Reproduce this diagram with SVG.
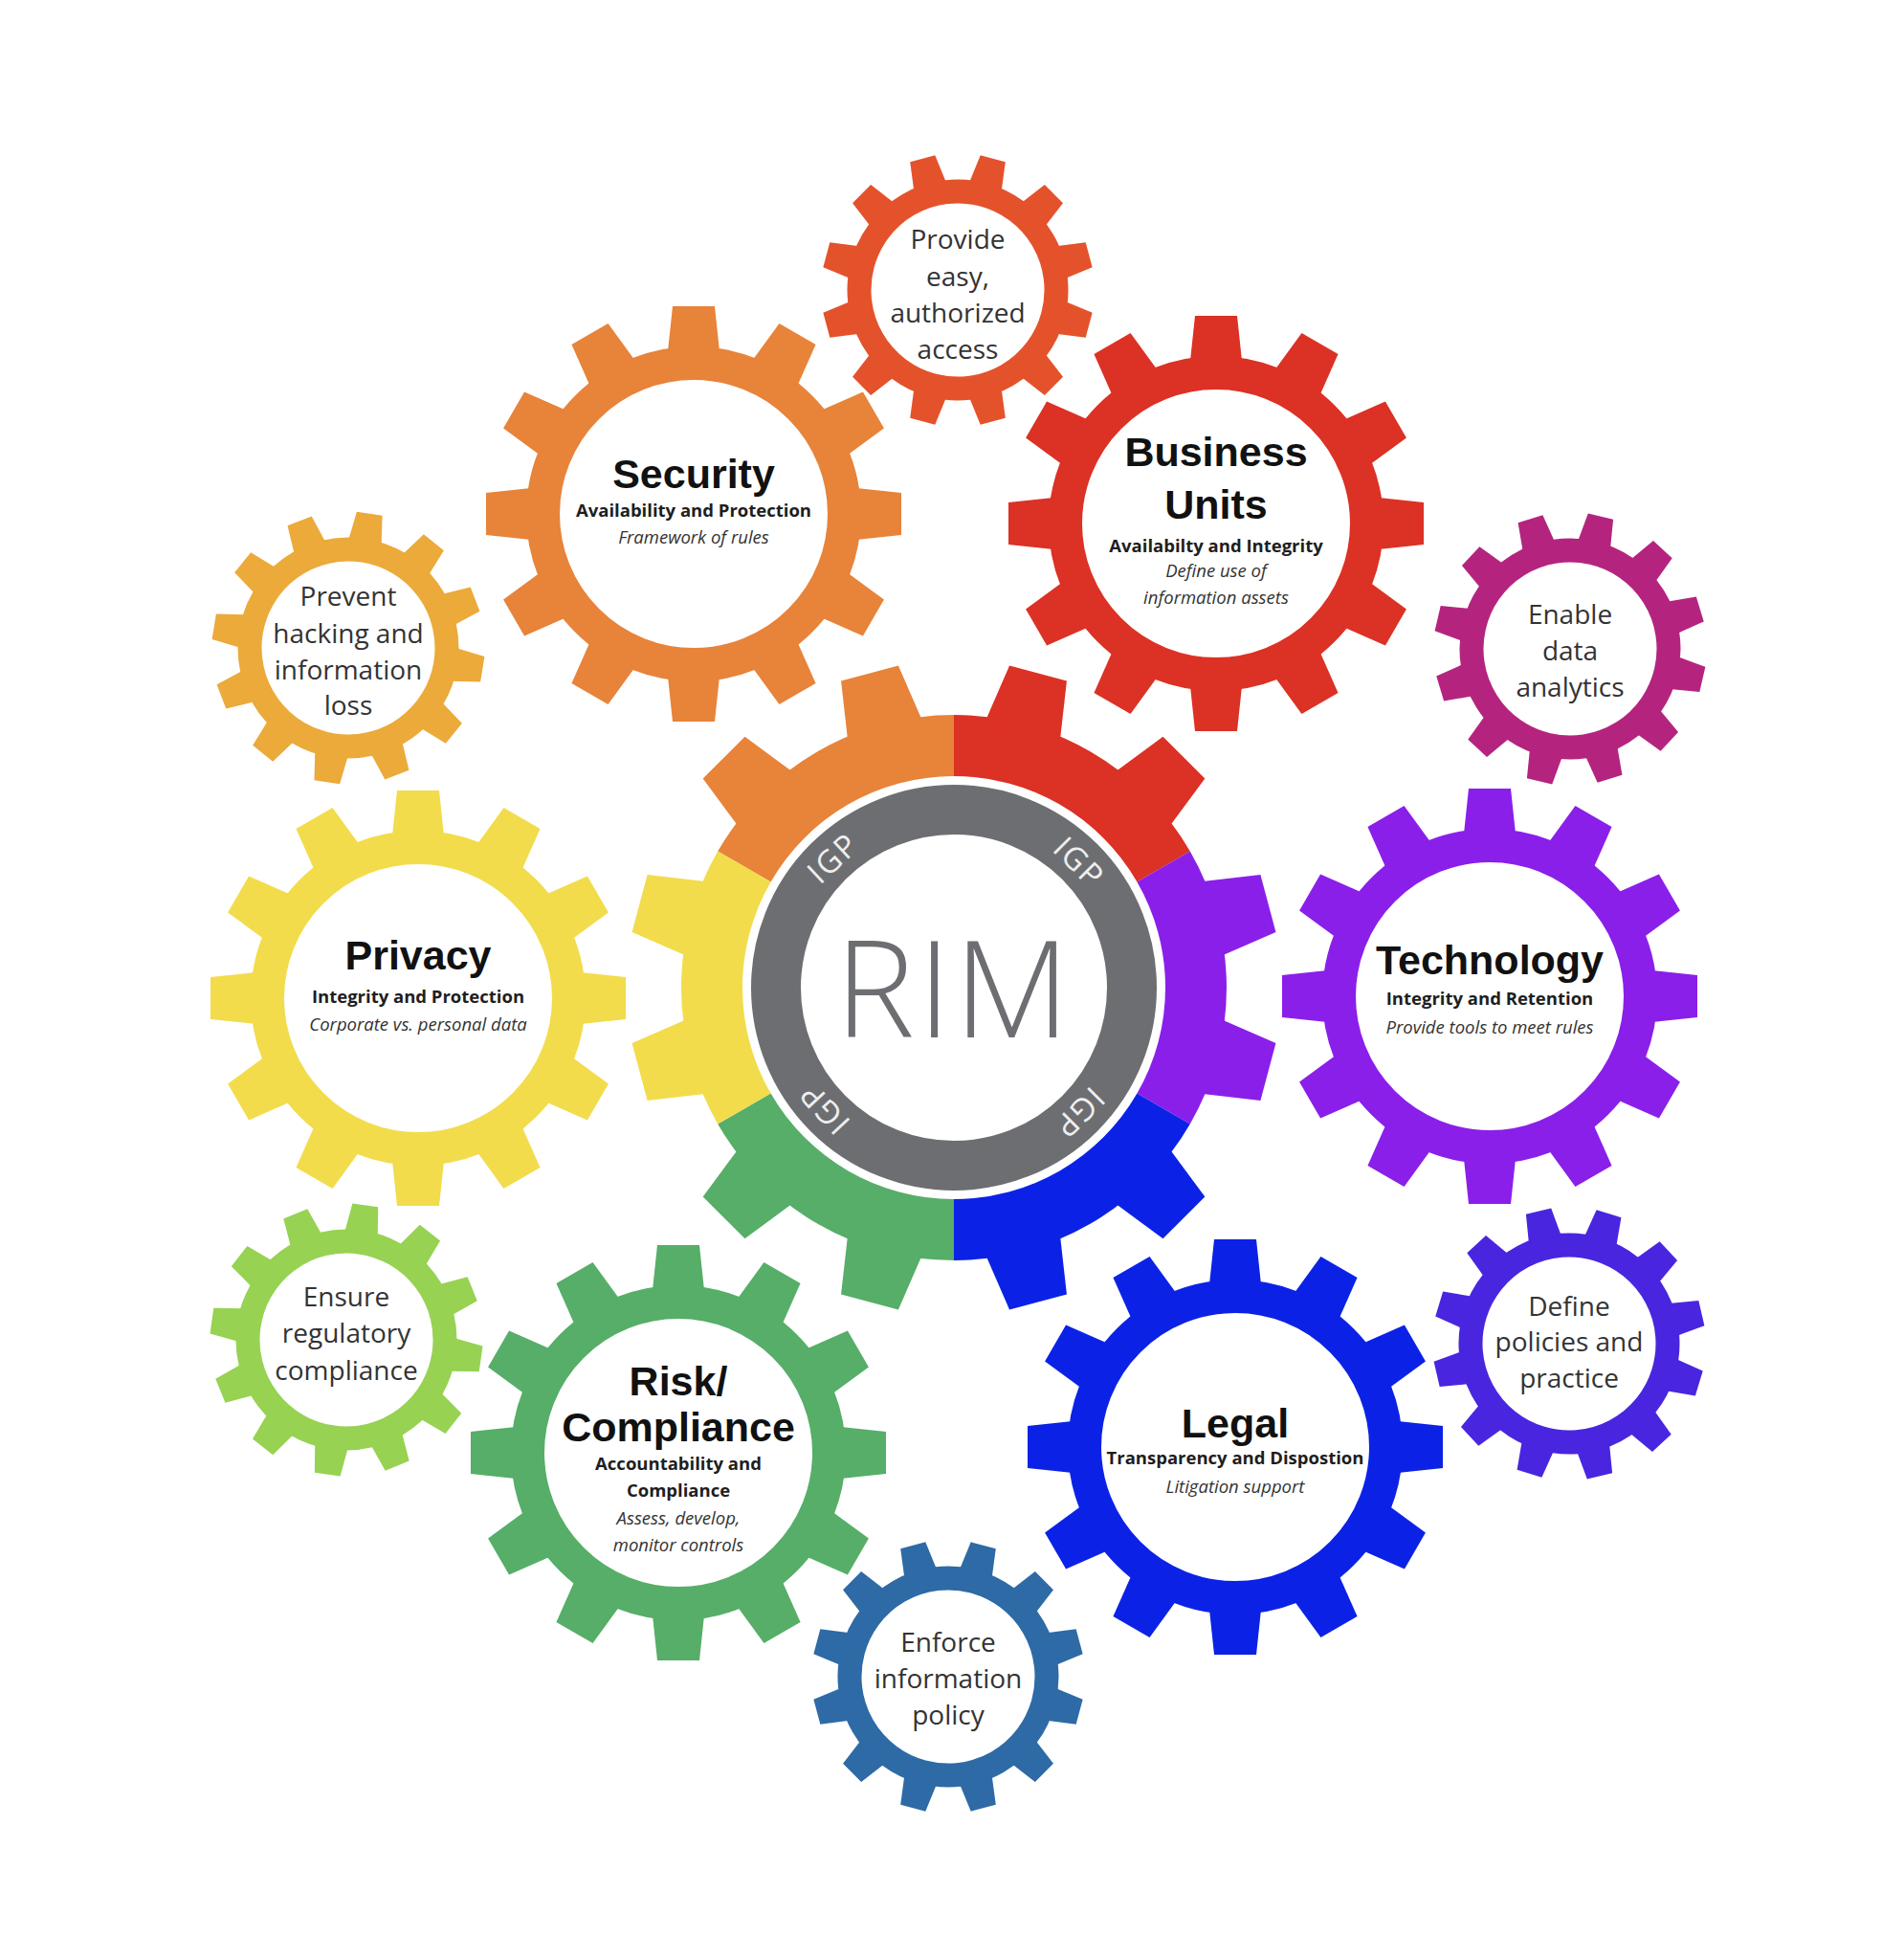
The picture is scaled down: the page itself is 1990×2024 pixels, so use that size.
<svg xmlns="http://www.w3.org/2000/svg" width="1990" height="2024" viewBox="0 0 1990 2024">
<style>
text{font-family:"Open Sans","Liberation Sans",sans-serif;text-anchor:middle}
.t{font-family:"Liberation Sans",Arial,sans-serif;font-weight:700;font-size:43px;fill:#111}
.s{font-weight:700;font-size:18.5px;fill:#1e1e1e}
.i{font-style:italic;font-size:18.5px;fill:#333}
.m{font-size:28px;fill:#333}
.rim{font-weight:300;font-size:140px;fill:#6D6E71;letter-spacing:3px}
.igp{font-weight:400;font-size:33px;fill:#EEEEEE;letter-spacing:2px;dominant-baseline:central}
</style>
<defs>
<polygon id="tB" points="-22,-217 22,-217 27,-170 -27,-170" fill="currentColor"/>
<g id="gearB">
<circle r="157.5" fill="none" stroke="currentColor" stroke-width="35"/>
<use href="#tB"/><use href="#tB" transform="rotate(30)"/><use href="#tB" transform="rotate(60)"/><use href="#tB" transform="rotate(90)"/>
<use href="#tB" transform="rotate(120)"/><use href="#tB" transform="rotate(150)"/><use href="#tB" transform="rotate(180)"/><use href="#tB" transform="rotate(210)"/>
<use href="#tB" transform="rotate(240)"/><use href="#tB" transform="rotate(270)"/><use href="#tB" transform="rotate(300)"/><use href="#tB" transform="rotate(330)"/>
</g>
<polygon id="tS" points="-13.5,-142 13.5,-142 17.5,-111 -17.5,-111" fill="currentColor"/>
<g id="gearS">
<circle r="103" fill="none" stroke="currentColor" stroke-width="25"/>
<use href="#tS"/><use href="#tS" transform="rotate(30)"/><use href="#tS" transform="rotate(60)"/><use href="#tS" transform="rotate(90)"/>
<use href="#tS" transform="rotate(120)"/><use href="#tS" transform="rotate(150)"/><use href="#tS" transform="rotate(180)"/><use href="#tS" transform="rotate(210)"/>
<use href="#tS" transform="rotate(240)"/><use href="#tS" transform="rotate(270)"/><use href="#tS" transform="rotate(300)"/><use href="#tS" transform="rotate(330)"/>
</g>
<polygon id="tC" points="-31,-340 31,-340 40,-280 -40,-280"/>
</defs>
<rect width="1990" height="2024" fill="#fff"/>

<g id="connectors"/>

<g id="rim-core" transform="translate(997,1032)">
<g fill="#E8833A"><path d="M-191.4,-110.5 L-246.8,-142.5 A285,285 0 0 1 0,-285 L0,-221 A221,221 0 0 0 -191.4,-110.5Z"/><use href="#tC" transform="rotate(-45)"/><use href="#tC" transform="rotate(-15)"/></g>
<g fill="#DC3125"><path d="M0,-221 L0,-285 A285,285 0 0 1 246.8,-142.5 L191.4,-110.5 A221,221 0 0 0 0,-221Z"/><use href="#tC" transform="rotate(15)"/><use href="#tC" transform="rotate(45)"/></g>
<g fill="#8A1FEA"><path d="M191.4,-110.5 L246.8,-142.5 A285,285 0 0 1 246.8,142.5 L191.4,110.5 A221,221 0 0 0 191.4,-110.5Z"/><use href="#tC" transform="rotate(75)"/><use href="#tC" transform="rotate(105)"/></g>
<g fill="#0B22E6"><path d="M191.4,110.5 L246.8,142.5 A285,285 0 0 1 0,285 L0,221 A221,221 0 0 0 191.4,110.5Z"/><use href="#tC" transform="rotate(135)"/><use href="#tC" transform="rotate(165)"/></g>
<g fill="#56AE68"><path d="M0,221 L0,285 A285,285 0 0 1 -246.8,142.5 L-191.4,110.5 A221,221 0 0 0 0,221Z"/><use href="#tC" transform="rotate(195)"/><use href="#tC" transform="rotate(225)"/></g>
<g fill="#F2DC4C"><path d="M-191.4,110.5 L-246.8,142.5 A285,285 0 0 1 -246.8,-142.5 L-191.4,-110.5 A221,221 0 0 0 -191.4,110.5Z"/><use href="#tC" transform="rotate(255)"/><use href="#tC" transform="rotate(285)"/></g>
<circle r="186" fill="#fff" stroke="#6D6E71" stroke-width="52"/>
<text class="rim" x="0" y="52">RIM</text>
<text class="igp" transform="rotate(-43) translate(0,-186)">IGP</text>
<text class="igp" transform="rotate(45) translate(0,-186)">IGP</text>
<text class="igp" transform="rotate(135) translate(0,-186)">IGP</text>
<text class="igp" transform="rotate(227) translate(0,-186)">IGP</text>
</g>

<g id="provide-access">
<use href="#gearS" transform="translate(1001,303) rotate(15)" color="#E4522B"/>
<text class="m" x="1001" y="260">Provide</text>
<text class="m" x="1001" y="299">easy,</text>
<text class="m" x="1001" y="337">authorized</text>
<text class="m" x="1001" y="375">access</text>
</g>

<g id="security">
<use href="#gearB" transform="translate(725,537)" color="#E8833A"/>
<text class="t" x="725" y="510">Security</text>
<text class="s" x="725" y="540">Availability and Protection</text>
<text class="i" x="725" y="568">Framework of rules</text>
</g>

<g id="business-units">
<use href="#gearB" transform="translate(1271,547)" color="#DC3125"/>
<text class="t" x="1271" y="487">Business</text>
<text class="t" x="1271" y="542">Units</text>
<text class="s" x="1271" y="577">Availabilty and Integrity</text>
<text class="i" x="1271" y="603">Define use of</text>
<text class="i" x="1271" y="631">information assets</text>
</g>

<g id="prevent-hacking">
<use href="#gearS" transform="translate(364,677) rotate(9)" color="#EBAA3A"/>
<text class="m" x="364" y="633">Prevent</text>
<text class="m" x="364" y="672">hacking and</text>
<text class="m" x="364" y="710">information</text>
<text class="m" x="364" y="747">loss</text>
</g>

<g id="enable-analytics">
<use href="#gearS" transform="translate(1641,678) rotate(13)" color="#B4247F"/>
<text class="m" x="1641" y="652">Enable</text>
<text class="m" x="1641" y="690">data</text>
<text class="m" x="1641" y="728">analytics</text>
</g>

<g id="privacy">
<use href="#gearB" transform="translate(437,1043)" color="#F2DC4C"/>
<text class="t" x="437" y="1013">Privacy</text>
<text class="s" x="437" y="1048">Integrity and Protection</text>
<text class="i" x="437" y="1077">Corporate vs. personal data</text>
</g>

<g id="technology">
<use href="#gearB" transform="translate(1557,1041)" color="#8A1FEA"/>
<text class="t" x="1557" y="1018">Technology</text>
<text class="s" x="1557" y="1050">Integrity and Retention</text>
<text class="i" x="1557" y="1080">Provide tools to meet rules</text>
</g>

<g id="ensure-compliance">
<use href="#gearS" transform="translate(362,1400) rotate(8)" color="#97D253"/>
<text class="m" x="362" y="1365">Ensure</text>
<text class="m" x="362" y="1403">regulatory</text>
<text class="m" x="362" y="1442">compliance</text>
</g>

<g id="define-policies">
<use href="#gearS" transform="translate(1640,1404) rotate(17)" color="#4A25E0"/>
<text class="m" x="1640" y="1375">Define</text>
<text class="m" x="1640" y="1412">policies and</text>
<text class="m" x="1640" y="1450">practice</text>
</g>

<g id="risk-compliance">
<use href="#gearB" transform="translate(709,1518)" color="#56AE68"/>
<text class="t" x="709" y="1458">Risk/</text>
<text class="t" x="709" y="1506">Compliance</text>
<text class="s" x="709" y="1536">Accountability and</text>
<text class="s" x="709" y="1564">Compliance</text>
<text class="i" x="709" y="1593">Assess, develop,</text>
<text class="i" x="709" y="1621">monitor controls</text>
</g>

<g id="legal">
<use href="#gearB" transform="translate(1291,1512)" color="#0B22E6"/>
<text class="t" x="1291" y="1502">Legal</text>
<text class="s" x="1291" y="1530">Transparency and Dispostion</text>
<text class="i" x="1291" y="1560">Litigation support</text>
</g>

<g id="enforce-policy">
<use href="#gearS" transform="translate(991,1752) rotate(15)" color="#2E6AA6"/>
<text class="m" x="991" y="1726">Enforce</text>
<text class="m" x="991" y="1764">information</text>
<text class="m" x="991" y="1802">policy</text>
</g>
</svg>
